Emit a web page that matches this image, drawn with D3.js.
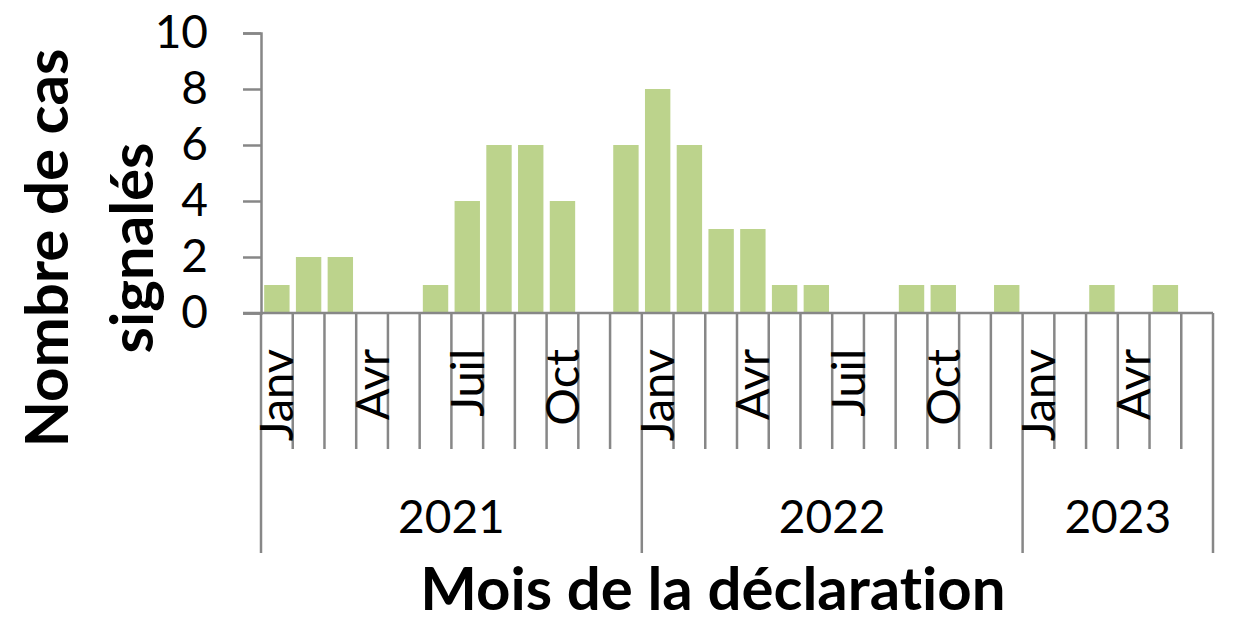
<!DOCTYPE html>
<html lang="fr">
  <head>
    <meta charset="UTF-8" />
    <title>Nombre de cas signalés</title>
    <style>
      body { margin: 0; background: #fff; }
      svg text { font-family: Lato, "Open Sans", sans-serif; fill: #000; font-variant-ligatures: none; }
    </style>
  </head>
  <body>
    <div class="chart"></div>
    <script src="https://d3js.org/d3.v7.min.js"></script>
    <script>
      // données =========================================================
      const years = ["2021", "2022", "2023"];
      const monthNames = ["Janv", "Févr", "Mars", "Avr", "Mai", "Juin", "Juil", "Août", "Sept", "Oct", "Nov", "Déc"];
      const values2021 = [1, 2, 2, 0, 0, 1, 4, 6, 6, 4, 0, 6];
      const values2022 = [8, 6, 3, 3, 1, 1, 0, 0, 1, 1, 0, 1];
      const values2023 = [0, 0, 1, 0, 1, 0];
      const yTicks = [0, 2, 4, 6, 8, 10];
      const xTitle = "Mois de la déclaration";
      const yTitle = ["Nombre de cas", "signalés"];

      const rows = [];
      [values2021, values2022, values2023].forEach((vals, yi) => {
        vals.forEach((v, m) => {
          rows.push({ key: years[yi] + "-" + m, year: years[yi], m: m, month: monthNames[m], value: v });
        });
      });

      // svg + échelles ===================================================
      const svg = d3.select(".chart").append("svg").attr("width", 1236).attr("height", 637);

      const x = d3.scaleBand()
        .domain(rows.map((d) => d.key))
        .range([261, 1213])
        .paddingInner(0.2)
        .paddingOuter(0.1);
      const cell = x.copy().padding(0);
      const y = d3.scaleLinear().domain([0, 10]).range([313, 33]);

      const axisColor = "#878787";

      // barres
      svg.selectAll("rect")
        .data(rows)
        .enter()
        .append("rect")
        .attr("x", (d) => x(d.key))
        .attr("y", (d) => y(d.value))
        .attr("width", x.bandwidth())
        .attr("height", (d) => y(0) - y(d.value))
        .attr("fill", "#bcd38c");

      // axe Y
      const yAxis = svg.append("g")
        .attr("transform", "translate(261,0)")
        .call(d3.axisLeft(y).tickValues(yTicks).tickSize(18).tickPadding(35));
      yAxis.selectAll("path, line").attr("stroke", axisColor).attr("stroke-width", 2.5);
      yAxis.selectAll("text").attr("font-size", 46).attr("fill", "#000");

      // axe X (catégories à deux niveaux)
      const xg = svg.append("g");
      xg.append("line")
        .attr("x1", 243).attr("x2", cell.range()[1])
        .attr("y1", y(0)).attr("y2", y(0))
        .attr("stroke", axisColor).attr("stroke-width", 2.5);

      const bounds = rows.map((d) => ({ x: cell(d.key), yearStart: d.m === 0 }));
      bounds.push({ x: cell.range()[1], yearStart: true });
      xg.selectAll("line.sep")
        .data(bounds)
        .enter()
        .append("line")
        .attr("class", "sep")
        .attr("x1", (d) => d.x).attr("x2", (d) => d.x)
        .attr("y1", y(0))
        .attr("y2", (d) => (d.yearStart ? 553 : 449))
        .attr("stroke", axisColor)
        .attr("stroke-width", 2.5);

      xg.selectAll("text.month")
        .data(rows.filter((d) => d.m % 3 === 0))
        .enter()
        .append("text")
        .attr("class", "month")
        .attr("transform", (d) => `translate(${cell(d.key) + cell.bandwidth() / 2},349) rotate(-90)`)
        .attr("text-anchor", "end")
        .attr("dy", "0.35em")
        .attr("font-size", 47)
        .text((d) => d.month);

      xg.selectAll("text.year")
        .data(years)
        .enter()
        .append("text")
        .attr("class", "year")
        .attr("x", (yr) => {
          const r = rows.filter((d) => d.year === yr);
          return (cell(r[0].key) + cell(r[r.length - 1].key) + cell.bandwidth()) / 2;
        })
        .attr("y", 533)
        .attr("text-anchor", "middle")
        .attr("font-size", 46)
        .text((yr) => yr);

      // titres
      svg.append("text")
        .attr("x", 713)
        .attr("y", 610)
        .attr("text-anchor", "middle")
        .attr("font-size", 60)
        .attr("font-weight", "bold")
        .text(xTitle);

      svg.selectAll("text.ytitle")
        .data(yTitle)
        .enter()
        .append("text")
        .attr("class", "ytitle")
        .attr("transform", (d, i) => `translate(${68 + i * 85},248) rotate(-90)`)
        .attr("text-anchor", "middle")
        .attr("font-size", 60)
        .attr("font-weight", "bold")
        .text((d) => d);
    </script>
  </body>
</html>
